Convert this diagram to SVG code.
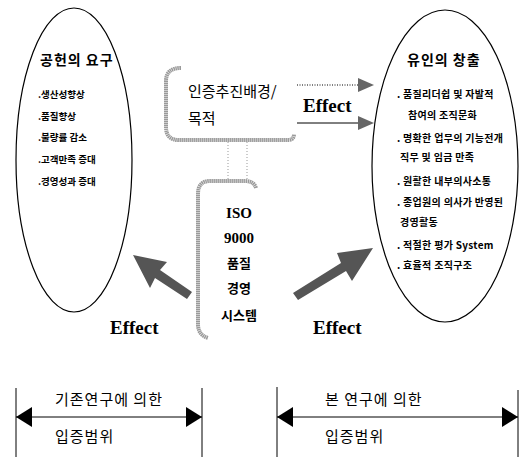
<svg xmlns="http://www.w3.org/2000/svg" width="522" height="457" viewBox="0 0 522 457">
<style>
.ell{fill:none;stroke:#000;stroke-width:1.2}
.kb{font-family:"Noto Sans CJK KR","Noto Sans",sans-serif;font-weight:bold;fill:#000}
.k{font-family:"Noto Sans CJK KR","Noto Sans",sans-serif;fill:#000}
.sb{font-family:"Liberation Serif",serif;font-weight:bold;fill:#000}
.eff{font-family:"Liberation Serif",serif;font-weight:bold;font-size:19px;fill:#000}
.it{font-size:10px;letter-spacing:0.3px}
.bt{font-size:15px;letter-spacing:1px}
.brk{fill:none;stroke:#9a9a9a;stroke-width:4;stroke-dasharray:1.5 0.5}
.dot{stroke:#999;stroke-width:1;stroke-dasharray:1 2}
.big{fill:#555}
.ln{stroke:#000;stroke-width:1}
</style>
<defs>
<marker id="ah" viewBox="0 0 16 20" refX="16" refY="10" markerWidth="16" markerHeight="20" markerUnits="userSpaceOnUse" orient="auto-start-reverse">
<path d="M0 0 L16 10 L0 20 Z" fill="#000"/>
</marker>
</defs>
<g id="left-ellipse">
<ellipse class="ell" cx="74" cy="160" rx="58" ry="152"/>
<text class="kb" x="40" y="65" font-size="14" letter-spacing="1">공헌의 요구</text>
<text class="kb" x="38" y="98" font-size="9.5">.생산성향상</text>
<text class="kb" x="38" y="120" font-size="9.5">.품질향상</text>
<text class="kb" x="38" y="141" font-size="9.5">.불량률 감소</text>
<text class="kb" x="38" y="163" font-size="9.5">.고객만족 증대</text>
<text class="kb" x="38" y="185" font-size="9.5">.경영성과 증대</text>
</g>
<g id="right-ellipse">
<ellipse class="ell" cx="445" cy="166" rx="73" ry="156"/>
<text class="kb" x="407" y="65" font-size="14" letter-spacing="1">유인의 창출</text>
<text class="kb it" x="397" y="98">. 품질리더쉽 및 자발적</text>
<text class="kb it" x="408" y="119">참여의 조직문화</text>
<text class="kb it" x="397" y="142">. 명확한 업무의 기능전개</text>
<text class="kb it" x="400" y="161">직무 및 임금 만족</text>
<text class="kb it" x="397" y="185">. 원활한 내부의사소통</text>
<text class="kb it" x="397" y="206">. 종업원의 의사가 반영된</text>
<text class="kb it" x="400" y="226">경영활동</text>
<text class="kb it" x="397" y="249">. 적절한 평가 System</text>
<text class="kb it" x="397" y="269">. 효율적 조직구조</text>
</g>
<g id="background-box">
<path class="brk" d="M181 68 Q166 68 166 81 L166 127 Q166 140 179 140 L288 140 Q294 140 294 134"/>
<text class="k" x="188" y="97" font-size="15">인증추진배경/</text>
<text class="k" x="188" y="124" font-size="15">목적</text>
</g>
<g id="iso-box">
<path class="brk" d="M256 188 Q254 181 245 181 L210 181 Q198 181 198 194 L198 324 Q198 335 208 338"/>
<text class="sb" x="239" y="218" font-size="15" text-anchor="middle">ISO</text>
<text class="sb" x="239" y="243" font-size="15" text-anchor="middle">9000</text>
<text class="kb" x="239" y="268" font-size="13" text-anchor="middle">품질</text>
<text class="kb" x="239" y="293" font-size="13" text-anchor="middle">경영</text>
<text class="kb" x="239" y="320" font-size="13" text-anchor="middle">시스템</text>
</g>
<g id="connectors">
<line class="dot" x1="228" y1="142" x2="228" y2="179"/>
<line class="dot" x1="247" y1="142" x2="247" y2="179"/>
<line x1="297" y1="85" x2="359" y2="85" stroke="#000" stroke-width="1" stroke-dasharray="1 1.5"/>
<path d="M358 78 L374 85 L358 92 Z" fill="#666"/>
<line x1="297" y1="123" x2="359" y2="123" stroke="#000" stroke-width="1"/>
<path d="M358 116 L374 123 L358 130 Z" fill="#666"/>
<text class="eff" x="303" y="112">Effect</text>
<path class="big" d="M133 255 L167 262 L160 270 L192 292 L187 299 L155 278 L150 288 Z"/>
<path class="big" d="M373 248 L352 281 L346 271 L298 300 L293 293 L341 263 L337 253 Z"/>
<text class="eff" x="110" y="334">Effect</text>
<text class="eff" x="313" y="334">Effect</text>
</g>
<g id="scope-existing">
<line class="ln" x1="16" y1="388" x2="16" y2="457"/>
<line class="ln" x1="202" y1="388" x2="202" y2="457"/>
<line class="ln" x1="16" y1="417" x2="202" y2="417" marker-start="url(#ah)" marker-end="url(#ah)"/>
<text class="k bt" x="55" y="405">기존연구에 의한</text>
<text class="k bt" x="55" y="442">입증범위</text>
</g>
<g id="scope-this">
<line class="ln" x1="277" y1="387" x2="277" y2="457"/>
<line class="ln" x1="518" y1="390" x2="518" y2="457"/>
<line class="ln" x1="277" y1="417" x2="518" y2="417" marker-start="url(#ah)" marker-end="url(#ah)"/>
<text class="k bt" x="325" y="405">본 연구에 의한</text>
<text class="k bt" x="325" y="442">입증범위</text>
</g>
</svg>
